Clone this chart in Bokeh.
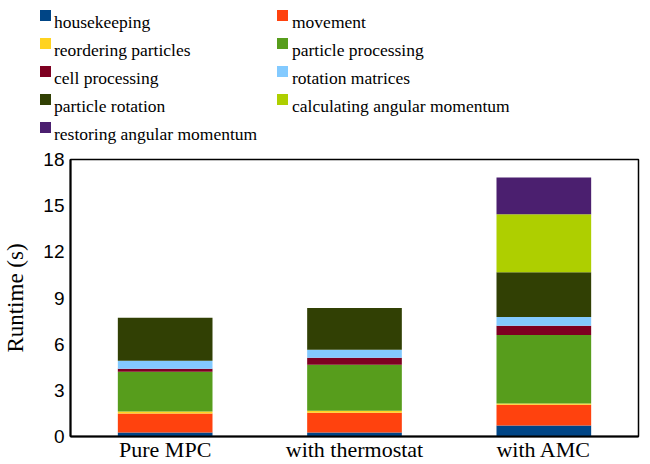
from bokeh.plotting import figure
from bokeh.models import FactorRange, Range1d, SingleIntervalTicker
from bokeh.core.properties import value
from bokeh.embed import file_html
from bokeh.resources import INLINE

categories = ["Pure MPC", "with thermostat", "with AMC"]
series = ["housekeeping", "movement", "reordering particles", "particle processing",
          "cell processing", "rotation matrices", "particle rotation",
          "calculating angular momentum", "restoring angular momentum"]
colors = ["#004586", "#ff420e", "#ffd320", "#579d1c", "#7e0021", "#83caff",
          "#314004", "#aecf00", "#4b1f6f"]

housekeeping = [0.26, 0.26, 0.71]
movement = [1.23, 1.29, 1.36]
reordering = [0.13, 0.13, 0.07]
particle_processing = [2.59, 2.98, 4.46]
cell_processing = [0.19, 0.46, 0.59]
rotation_matrices = [0.52, 0.51, 0.58]
particle_rotation = [2.79, 2.72, 2.91]
calc_ang_mom = [0.0, 0.0, 3.76]
restore_ang_mom = [0.0, 0.0, 2.39]

values = [housekeeping, movement, reordering, particle_processing, cell_processing,
          rotation_matrices, particle_rotation, calc_ang_mom, restore_ang_mom]

keys = ["s%d" % i for i in range(len(series))]
data = {"cat": categories}
for k, v in zip(keys, values):
    data[k] = v

W = 640
LH = 145

# ---- legend strip (pixel-unit layout, separate root so it is not frame-aligned) ----
lg = figure(width=W, height=LH, output_backend="svg", toolbar_location=None,
            x_range=Range1d(0, W), y_range=Range1d(LH, 0),
            x_axis_location=None, y_axis_location=None,
            min_border=0, outline_line_color=None)
lg.grid.visible = False
sw_x, sw_y, tx_x, tx_y = [], [], [], []
for i in range(len(series)):
    row, col = i // 2, i % 2
    sw_x.append(45 + col * 237)
    sw_y.append(15 + row * 28)
    tx_x.append(53.5 + col * 238)
    tx_y.append(21 + row * 28)
lg.rect(x=sw_x, y=sw_y, width=11, height=11, fill_color=colors, line_color=None)
lg.text(x=tx_x, y=tx_y, text=series, text_font=value("Liberation Serif"),
        text_font_size=value("17.5px"), text_color="black",
        text_baseline="alphabetic", text_align="left")

# ---- main chart ----
p = figure(x_range=FactorRange(*categories), y_range=Range1d(0, 18),
           width=W, height=464 - LH, output_backend="svg", toolbar_location=None,
           min_border_left=62, min_border_right=2, min_border_top=14, min_border_bottom=27)
p.x_range.range_padding = 0

p.vbar_stack(keys, x="cat", width=0.5, source=data, color=colors, line_color=None)

p.xgrid.visible = False
p.ygrid.visible = False
p.outline_line_color = "black"
p.outline_line_width = 1.5
p.background_fill_color = "white"
p.border_fill_color = "white"

ya = p.yaxis[0]
ya.ticker = SingleIntervalTicker(interval=3)
ya.major_tick_in = 0
ya.major_tick_out = 0
ya.minor_tick_in = 0
ya.minor_tick_out = 0
ya.axis_line_width = 2
ya.axis_line_color = "black"
ya.major_label_text_font = "Liberation Sans"
ya.major_label_text_font_size = "19px"
ya.major_label_text_color = "black"
ya.major_label_standoff = 6
ya.axis_label = "Runtime (s)"
ya.axis_label_text_font = "Liberation Serif"
ya.axis_label_text_font_size = "23px"
ya.axis_label_text_font_style = "normal"
ya.axis_label_text_color = "black"
ya.axis_label_standoff = 12

xa = p.xaxis[0]
xa.major_tick_in = 0
xa.major_tick_out = 0
xa.axis_line_width = 2
xa.axis_line_color = "black"
xa.major_label_text_font = "Liberation Serif"
xa.major_label_text_font_size = "22px"
xa.major_label_text_color = "black"
xa.major_label_standoff = 0

open("out.html", "w").write(file_html([lg, p], INLINE))
